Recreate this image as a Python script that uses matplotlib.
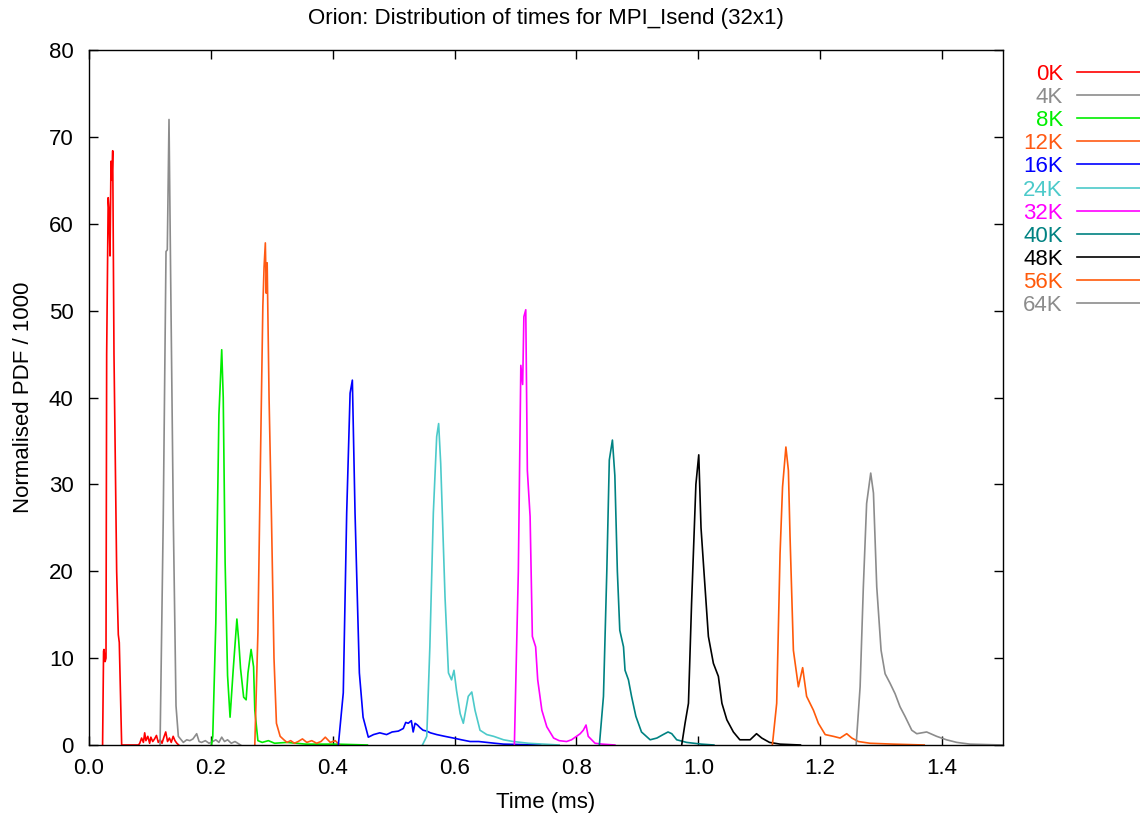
import matplotlib
matplotlib.use("Agg")
import matplotlib.pyplot as plt
from matplotlib.lines import Line2D

plt.rcParams['font.family'] = ['Liberation Sans', 'DejaVu Sans']

# series: time (ms) and normalised PDF / 1000
labels = ["0K", "4K", "8K", "12K", "16K", "24K", "32K", "40K", "48K", "56K", "64K"]
colors = ["#ff0000", "#8c8c8c", "#00ee00", "#ff5a14", "#0000ff", "#4ccaca",
          "#ff00ff", "#008282", "#000000", "#ff5a0a", "#8c8c8c"]

x0 = [0.0223, 0.0239, 0.0246, 0.0264, 0.0279, 0.029, 0.0315, 0.0328, 0.0345, 0.0361, 0.0376, 0.0389,
      0.041, 0.0454, 0.0481, 0.0497, 0.0536, 0.0609, 0.0711, 0.0812, 0.0833, 0.0863, 0.0893, 0.0914,
      0.0934, 0.0965, 0.0995, 0.1015, 0.1046, 0.1076, 0.1107, 0.1137, 0.1168, 0.1198, 0.1229, 0.1259,
      0.1289, 0.132, 0.135, 0.1381, 0.1411, 0.1442, 0.1472]
y0 = [0.0, 10.8, 11.0, 9.6, 10.0, 45.0, 63.0, 61.6, 56.3, 67.2, 65.0, 68.4,
      45.0, 20.0, 12.7, 11.8, 0.0, 0.0, 0.0, 0.0, 0.2, 0.8, 0.3, 1.4,
      0.5, 1.0, 0.2, 0.9, 0.4, 0.7, 1.1, 0.3, 0.6, 0.2, 0.9, 1.5,
      0.4, 0.8, 0.3, 1.0, 0.5, 0.2, 0.0]

x4 = [0.1166, 0.1218, 0.1264, 0.1285, 0.1313, 0.134, 0.1384, 0.1428, 0.1466, 0.1548, 0.1604,
      0.1655, 0.1706, 0.1767, 0.1807, 0.1848, 0.1909, 0.197, 0.2031, 0.2081, 0.2132, 0.2178, 0.2224,
      0.2274, 0.2335, 0.2396, 0.2487]
y4 = [0.0, 25.8, 56.8, 57.0, 72.0, 53.9, 25.8, 4.5, 1.0, 0.3, 0.6,
      0.5, 0.7, 1.3, 0.4, 0.3, 0.5, 0.2, 0.4, 0.6, 0.3, 0.9, 0.4,
      0.6, 0.2, 0.4, 0.0]

x8 = [0.201, 0.2031, 0.2081, 0.2132, 0.2178, 0.2203, 0.2234, 0.2274, 0.2315, 0.2366, 0.2427, 0.2457,
      0.2487, 0.2538, 0.2579, 0.2609, 0.266, 0.2701, 0.2721, 0.2772, 0.2843, 0.2944, 0.3046, 0.3249,
      0.3554, 0.4061, 0.4569]
y8 = [0.0, 1.0, 14.0, 38.0, 45.5, 40.0, 21.0, 8.0, 3.2, 8.6, 14.5, 12.0,
      8.8, 5.5, 5.2, 8.3, 11.0, 9.0, 4.0, 0.5, 0.3, 0.5, 0.2, 0.3,
      0.1, 0.1, 0.0]

x12 = [0.2721, 0.2772, 0.2812, 0.2853, 0.2873, 0.2894, 0.2909, 0.2924, 0.2955, 0.2995, 0.3036, 0.3076,
       0.3137, 0.3198, 0.3249, 0.331, 0.3371, 0.3432, 0.3503, 0.3574, 0.3655, 0.3736, 0.3807, 0.3878,
       0.396, 0.4041, 0.4112]
y12 = [0.0, 12.9, 32.0, 50.5, 55.0, 57.8, 52.0, 55.5, 40.0, 26.0, 10.0, 2.5,
       1.0, 0.6, 0.3, 0.5, 0.2, 0.4, 0.7, 0.3, 0.5, 0.2, 0.4, 0.9,
       0.3, 0.5, 0.0]

x16 = [0.4092, 0.4173, 0.4229, 0.4285, 0.4322, 0.4366, 0.4437, 0.4498, 0.4584, 0.467, 0.4772, 0.4884,
       0.4975, 0.5077, 0.5158, 0.5198, 0.5239, 0.529, 0.532, 0.5351, 0.5391, 0.5432, 0.5483, 0.5544,
       0.5604, 0.5706, 0.5838, 0.598, 0.6112, 0.6254, 0.6396, 0.6528, 0.666, 0.6803, 0.7107, 0.7412]
y16 = [0.0, 6.0, 26.7, 40.5, 42.0, 26.7, 8.3, 3.2, 0.9, 1.2, 1.4, 1.2,
       1.5, 1.6, 1.9, 2.6, 2.5, 2.8, 1.5, 2.5, 2.3, 2.0, 1.7, 1.6,
       1.4, 1.2, 1.0, 0.8, 0.6, 0.4, 0.4, 0.3, 0.2, 0.1, 0.05, 0.0]

x24 = [0.5472, 0.5543, 0.5594, 0.5651, 0.5706, 0.5738, 0.5772, 0.5843, 0.5899, 0.595, 0.599, 0.6031,
       0.6092, 0.6143, 0.6224, 0.6282, 0.6335, 0.6417, 0.6528, 0.664, 0.6803, 0.6965, 0.7209, 0.7716]
y24 = [0.0, 1.0, 11.3, 26.7, 35.5, 37.0, 32.4, 17.0, 8.3, 7.5, 8.6, 6.3,
       3.6, 2.5, 5.6, 6.1, 4.0, 1.7, 1.2, 1.0, 0.6, 0.4, 0.2, 0.0]

x32 = [0.6981, 0.7046, 0.7087, 0.7117, 0.7137, 0.7168, 0.7194, 0.7239, 0.7276, 0.733, 0.7364, 0.7432,
       0.7513, 0.7625, 0.7716, 0.7838, 0.7919, 0.8001, 0.8061, 0.8112, 0.8157, 0.8193, 0.8305, 0.8427,
       0.863]
y32 = [0.0, 20.0, 43.7, 41.5, 49.3, 50.1, 31.6, 26.3, 12.5, 11.3, 7.5, 4.0,
       2.1, 0.8, 0.5, 0.4, 0.6, 1.0, 1.3, 1.7, 2.3, 1.0, 0.2, 0.1,
       0.0]

x40 = [0.8376, 0.8443, 0.8498, 0.8539, 0.859, 0.863, 0.8671, 0.8711, 0.8772, 0.8797, 0.8853, 0.8904,
       0.8975, 0.9067, 0.9209, 0.932, 0.9422, 0.9503, 0.9564, 0.9645, 0.9808, 1.0051, 1.0255]
y40 = [0.0, 5.6, 20.0, 32.8, 35.1, 31.0, 20.0, 13.2, 11.3, 8.6, 7.5, 5.6,
       3.3, 1.5, 0.6, 0.8, 1.2, 1.5, 1.3, 0.6, 0.3, 0.1, 0.0]

x48 = [0.9727, 0.9782, 0.9838, 0.9889, 0.996, 1.0007, 1.0044, 1.0092, 1.0165, 1.0247, 1.0329, 1.0387,
       1.0468, 1.0575, 1.0681, 1.085, 1.0955, 1.1041, 1.1168, 1.1341, 1.1676]
y48 = [0.0, 2.5, 4.8, 16.3, 30.0, 33.4, 25.0, 20.0, 12.5, 9.4, 7.9, 4.8,
       2.9, 1.5, 0.6, 0.6, 1.3, 0.8, 0.3, 0.1, 0.0]

x56 = [1.1215, 1.1286, 1.1341, 1.1382, 1.1437, 1.1478, 1.1505, 1.156, 1.1642, 1.1712, 1.1777, 1.1889,
       1.197, 1.2082, 1.2214, 1.2326, 1.2435, 1.2519, 1.2627, 1.2818, 1.3199, 1.3707]
y56 = [0.0, 4.8, 22.0, 29.7, 34.3, 31.6, 24.0, 10.9, 6.7, 8.9, 5.6, 4.0,
       2.5, 1.2, 1.0, 0.8, 1.3, 0.8, 0.4, 0.2, 0.1, 0.0]

x64 = [1.259, 1.2655, 1.2708, 1.2762, 1.2829, 1.2874, 1.2928, 1.2999, 1.3065, 1.3147, 1.3229, 1.331,
       1.3392, 1.3503, 1.3585, 1.3747, 1.391, 1.4072, 1.4241, 1.4458, 1.4722, 1.5]
y64 = [0.0, 6.7, 18.2, 27.8, 31.3, 29.0, 18.2, 10.9, 8.2, 7.1, 5.9, 4.4,
       3.3, 1.7, 1.3, 1.5, 1.0, 0.6, 0.3, 0.1, 0.05, 0.0]

xs = [x0, x4, x8, x12, x16, x24, x32, x40, x48, x56, x64]
ys = [y0, y4, y8, y12, y16, y24, y32, y40, y48, y56, y64]

fig = plt.figure(figsize=(11.4, 8.18), dpi=100)
ax = fig.add_axes([89 / 1140, 1 - 745 / 818, (1003 - 89) / 1140, (745 - 50) / 818])

for x, y, c in zip(xs, ys, colors):
    ax.plot(x, y, color=c, lw=1.2)

ax.set_xlim(0, 1.5)
ax.set_ylim(0, 80)
ax.set_xticks([0.0, 0.2, 0.4, 0.6, 0.8, 1.0, 1.2, 1.4])
ax.set_xticklabels(["0.0", "0.2", "0.4", "0.6", "0.8", "1.0", "1.2", "1.4"])
ax.set_yticks(range(0, 81, 10))
ax.tick_params(direction='in', length=6.5, width=1.0, top=True, right=True, labelsize=16)
ax.tick_params(axis='x', pad=9)
ax.tick_params(axis='y', pad=11)
for s in ax.spines.values():
    s.set_linewidth(1.0)

ax.set_title("Orion: Distribution of times for MPI_Isend (32x1)", fontsize=16, pad=19)
ax.set_xlabel("Time (ms)", fontsize=16, labelpad=10)
ax.set_ylabel("Normalised PDF / 1000", fontsize=16, labelpad=11)

# gnuplot-style key: right-aligned label then a line sample
key_top = 1 - 72 / 818
key_step = 23.1 / 818
for i, (lab, c) in enumerate(zip(labels, colors)):
    yk = key_top - i * key_step
    fig.text(1063 / 1140, yk, lab, color=c, ha='right', va='center_baseline', fontsize=16)
    fig.add_artist(Line2D([1077 / 1140, 1140 / 1140], [yk, yk], transform=fig.transFigure,
                          color=c, lw=1.2))

fig.savefig("out.png", dpi=100)
